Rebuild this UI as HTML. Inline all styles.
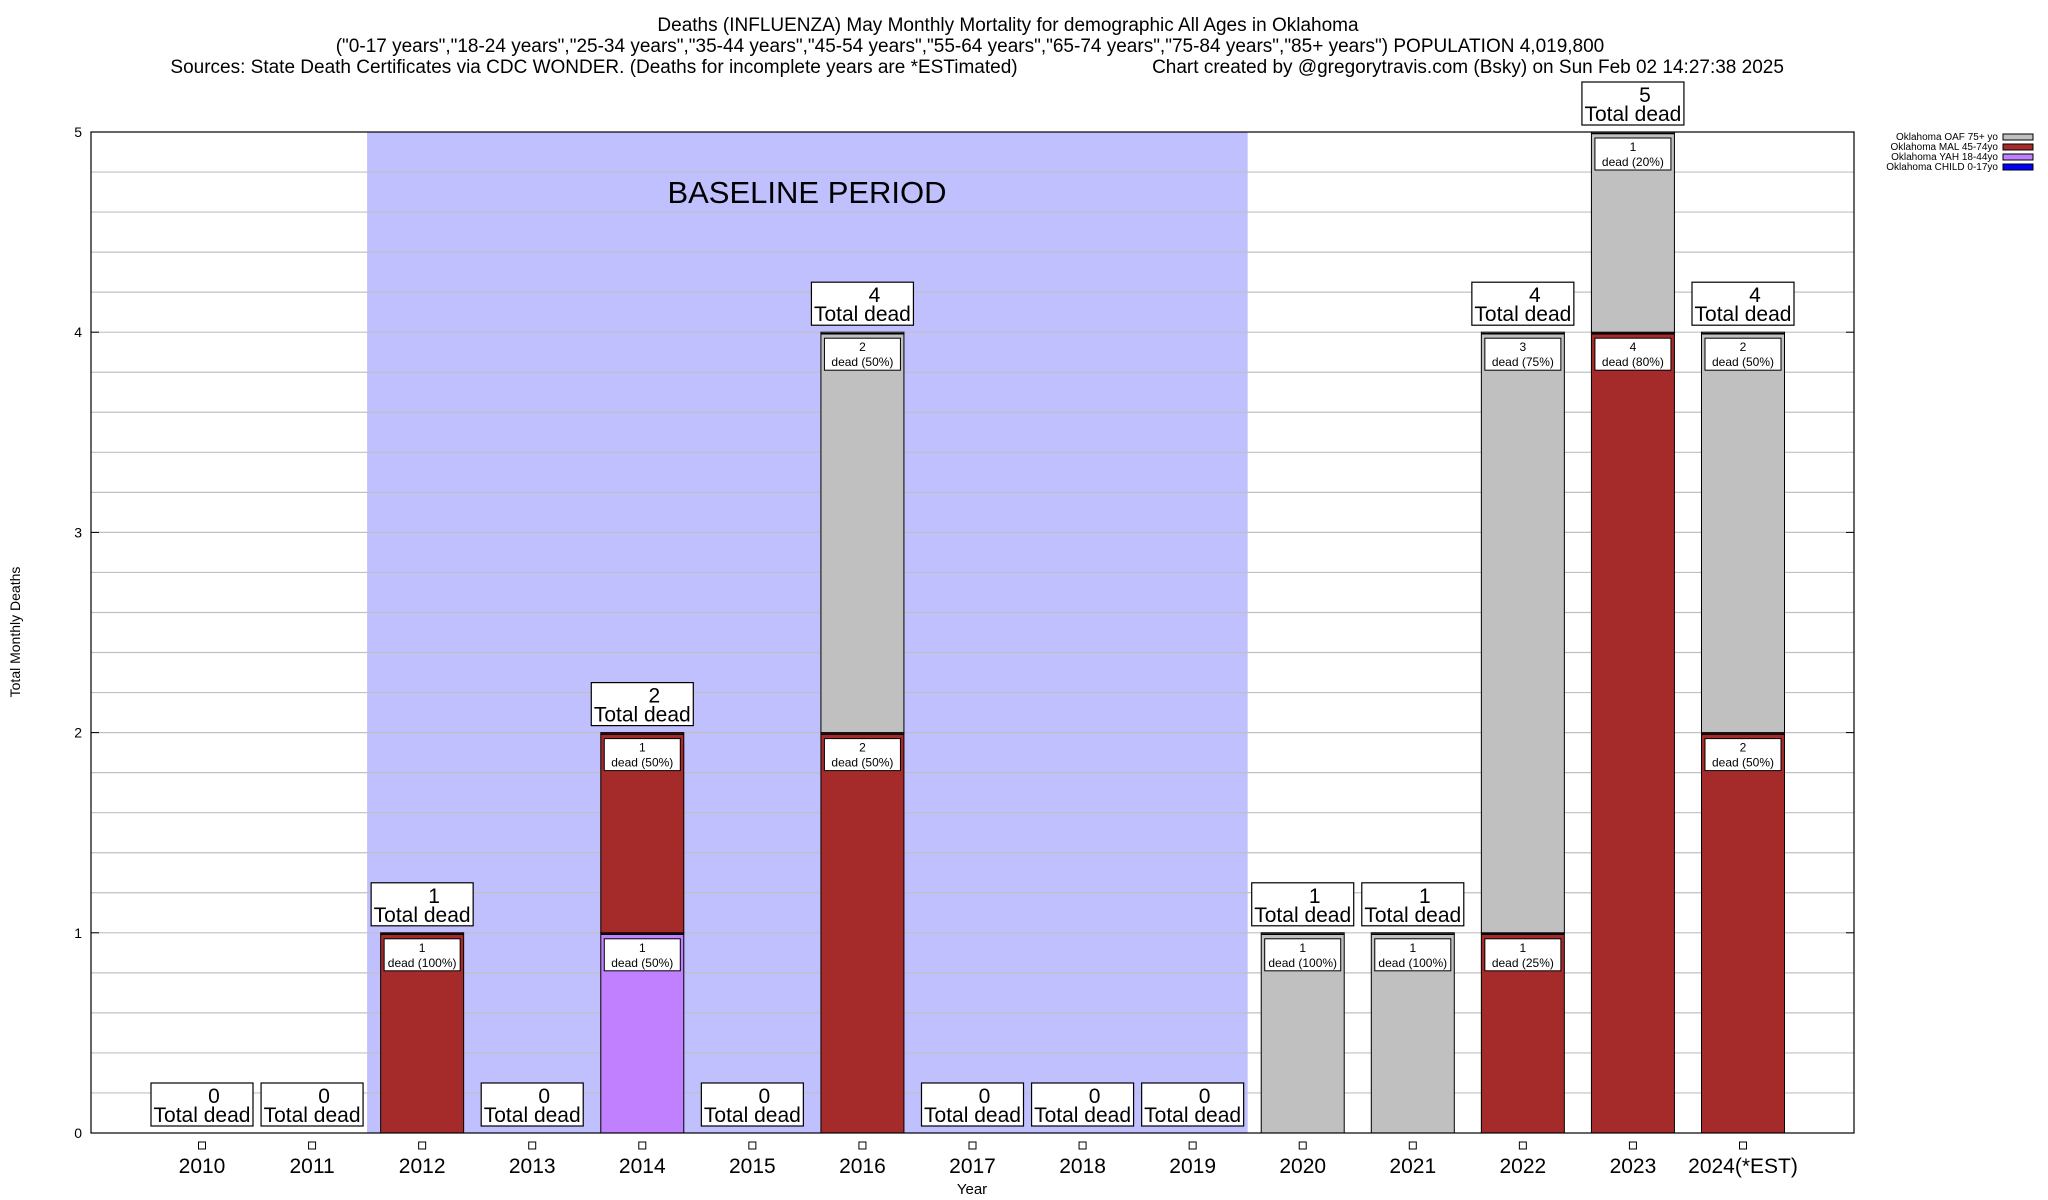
<!DOCTYPE html>
<html><head><meta charset="utf-8"><style>
html,body{margin:0;padding:0;background:#fff;}
svg{display:block;font-family:"Liberation Sans",sans-serif;}
</style></head><body>
<svg id="chart" width="2048" height="1200" viewBox="0 0 2048 1200" xmlns="http://www.w3.org/2000/svg">
<rect width="2048" height="1200" fill="#fff"/>
<g font-size="19" text-anchor="middle" fill="#000">
<text x="1008" y="31">Deaths (INFLUENZA) May Monthly Mortality for demographic All Ages in Oklahoma</text>
<text x="970" y="52">("0-17 years","18-24 years","25-34 years","35-44 years","45-54 years","55-64 years","65-74 years","75-84 years","85+ years") POPULATION 4,019,800</text>
<text x="594" y="73">Sources: State Death Certificates via CDC WONDER. (Deaths for incomplete years are *ESTimated)</text>
<text x="1468" y="73">Chart created by @gregorytravis.com (Bsky) on Sun Feb 02 14:27:38 2025</text>
</g>
<g id="plot"></g>
<text x="20" y="632" font-size="14" text-anchor="middle" transform="rotate(-90 20 632)">Total Monthly Deaths</text>
<text x="972" y="1194" font-size="15" text-anchor="middle">Year</text>
<g font-size="10" text-anchor="end">
<text x="1998" y="140">Oklahoma OAF 75+ yo</text><rect x="2003" y="134" width="30" height="6" fill="#c0c0c0" stroke="#000"/>
<text x="1998" y="150">Oklahoma MAL 45-74yo</text><rect x="2003" y="144" width="30" height="6" fill="#a52a2a" stroke="#000"/>
<text x="1998" y="160">Oklahoma YAH 18-44yo</text><rect x="2003" y="154" width="30" height="6" fill="#c080ff" stroke="#000"/>
<text x="1998" y="170">Oklahoma CHILD 0-17yo</text><rect x="2003" y="164" width="30" height="6" fill="#0000ff" stroke="#000"/>
</g>
</svg>
<script>
const categories = ["2010","2011","2012","2013","2014","2015","2016","2017","2018","2019","2020","2021","2022","2023","2024(*EST)"];
const childVals = [0,0,0,0,0,0,0,0,0,0,0,0,0,0,0];
const yahVals   = [0,0,0,0,1,0,0,0,0,0,0,0,0,0,0];
const malVals   = [0,0,1,0,1,0,2,0,0,0,0,0,1,4,2];
const oafVals   = [0,0,0,0,0,0,2,0,0,0,1,1,3,1,2];
const yTicks = [0,1,2,3,4,5];
const baselineStart = 2, baselineEnd = 9;

const NS="http://www.w3.org/2000/svg";
const L=91,R=1854,T=132,B=1133,yMax=5;
const step=(1743-202)/14, x0=202, bw=83;
function xPos(i){return x0+i*step;}
function yPos(v){return B-(v/yMax)*(B-T);}
const g=document.getElementById('plot');
function mk(tag,attrs,parent){const e=document.createElementNS(NS,tag);for(const k in attrs)e.setAttribute(k,attrs[k]);(parent||g).appendChild(e);return e;}

const sh=mk('rect',{x:xPos(baselineStart)-step/2,y:T,width:(baselineEnd-baselineStart+1)*step,height:B-T,fill:'#c0c0ff'});


const bt=mk('text',{x:807,y:203,'font-size':31,'text-anchor':'middle'});
bt.textContent='BASELINE PERIOD';



for(let k=1;k<25;k++){
  const v=k*0.2;
  const ln=mk('line',{x1:L,x2:R,y1:yPos(v),y2:yPos(v),stroke:'#c0c0c0','stroke-width':1.2});
  
  
}
yTicks.forEach(v=>{
  const t=mk('text',{x:82,y:yPos(v)+5,'font-size':14,'text-anchor':'end'});
  t.textContent=v;
  
  
  mk('line',{x1:L,x2:L+8,y1:yPos(v),y2:yPos(v),stroke:'#000'});
  mk('line',{x1:R-8,x2:R,y1:yPos(v),y2:yPos(v),stroke:'#000'});
});

const series=[[childVals,'#0000ff','child'],[yahVals,'#c080ff','yah'],[malVals,'#a52a2a','mal'],[oafVals,'#c0c0c0','oaf']];
categories.forEach((c,i)=>{
  const cx=xPos(i);
  const total=childVals[i]+yahVals[i]+malVals[i]+oafVals[i];
  let base=0;
  series.forEach(([arr,col,nm])=>{
    const v=arr[i]; if(!v) return;
    const y1=yPos(base+v), y0=yPos(base);
    const r=mk('rect',{x:cx-bw/2,y:y1,width:bw,height:y0-y1,fill:col,stroke:'#000','stroke-width':1});
    
    
    mk('line',{x1:cx-bw/2,x2:cx+bw/2,y1:y1+1.5,y2:y1+1.5,stroke:'#000','stroke-width':1.5});
    const lb=mk('rect',{x:cx-38,y:y1+6,width:76,height:32,fill:'#fff',stroke:'#000'});
    
    
    const t1=mk('text',{x:cx,y:y1+19,'font-size':12,'text-anchor':'middle'});t1.textContent=v;
    const t2=mk('text',{x:cx,y:y1+34,'font-size':12,'text-anchor':'middle'});
    t2.textContent='dead ('+Math.round(v/total*100)+'%)';
    
    
    base+=v;
  });
  const top=yPos(total);
  const bx=mk('rect',{x:cx-51,y:top-50,width:102,height:43,fill:'#fff',stroke:'#000','stroke-width':1.2});
  
  
  const a=mk('text',{x:cx+12,y:top-30,'font-size':21,'text-anchor':'middle'});a.textContent=total;
  const b=mk('text',{x:cx,y:top-11,'font-size':21,'text-anchor':'middle'});b.textContent='Total dead';
  
  
  mk('rect',{x:cx-3.5,y:1142,width:7,height:7,fill:'#fff',stroke:'#000'});
  const xl=mk('text',{x:cx,y:1173,'font-size':21,'text-anchor':'middle'});
  xl.textContent=c;
  
  
});
const fr=mk('rect',{x:L,y:T,width:R-L,height:B-T,fill:'none',stroke:'#000','stroke-width':1.2});


</script>
</body></html>
